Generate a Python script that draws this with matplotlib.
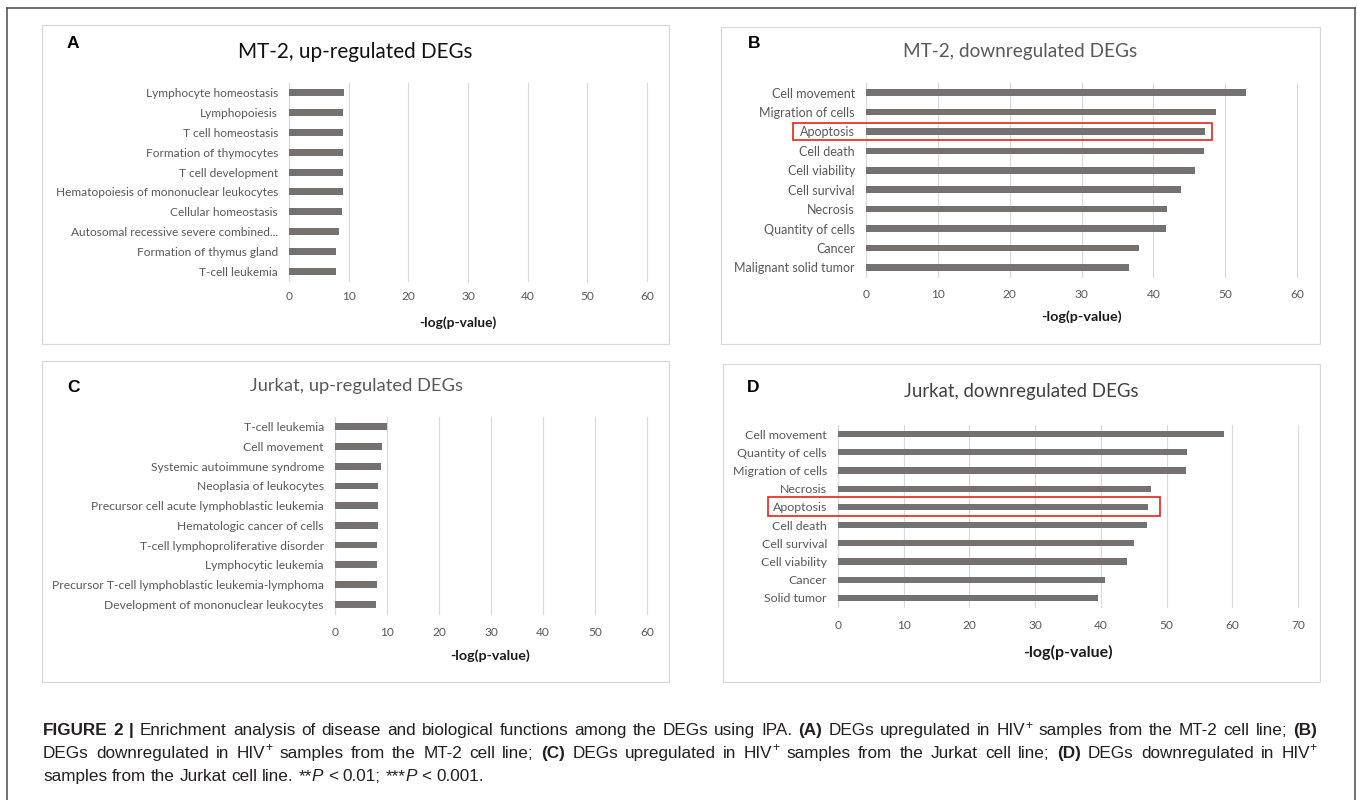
import numpy as np
import matplotlib
matplotlib.use("Agg")
import matplotlib.pyplot as plt
from matplotlib.patches import Rectangle
from matplotlib.lines import Line2D

# ---------------- data ----------------
a_labels = ["Lymphocyte homeostasis", "Lymphopoiesis", "T cell homeostasis",
            "Formation of thymocytes", "T cell development",
            "Hematopoiesis of mononuclear leukocytes", "Cellular homeostasis",
            "Autosomal recessive severe combined...", "Formation of thymus gland",
            "T-cell leukemia"]
a_values = [9.3, 9.1, 9.1, 9.05, 9.0, 9.0, 8.8, 8.3, 7.95, 7.9]

b_labels = ["Cell movement", "Migration of cells", "Apoptosis", "Cell death",
            "Cell viability", "Cell survival", "Necrosis", "Quantity of cells",
            "Cancer", "Malignant solid tumor"]
b_values = [52.9, 48.7, 47.2, 47.05, 45.8, 43.8, 41.9, 41.75, 37.95, 36.55]

c_labels = ["T-cell leukemia", "Cell movement", "Systemic autoimmune syndrome",
            "Neoplasia of leukocytes", "Precursor cell acute lymphoblastic leukemia",
            "Hematologic cancer of cells", "T-cell lymphoproliferative disorder",
            "Lymphocytic leukemia", "Precursor T-cell lymphoblastic leukemia-lymphoma",
            "Development of mononuclear leukocytes"]
c_values = [10.0, 8.95, 8.75, 8.35, 8.2, 8.18, 8.05, 8.03, 8.03, 7.87]

d_labels = ["Cell movement", "Quantity of cells", "Migration of cells", "Necrosis",
            "Apoptosis", "Cell death", "Cell survival", "Cell viability",
            "Cancer", "Solid tumor"]
d_values = [58.8, 53.1, 52.95, 47.6, 47.1, 47.0, 45.05, 43.95, 40.7, 39.5]

titles = ["MT-2, up-regulated DEGs", "MT-2, downregulated DEGs",
          "Jurkat, up-regulated DEGs", "Jurkat, downregulated DEGs"]
panel_letters = ["A", "B", "C", "D"]
xlabel_text = "-log(p-value)"
highlight = "Apoptosis"

# ---------------- style ----------------
W, H = 1357, 800
BAR = "#767171"
GRID = "#D9D9D9"
TICK = "#595959"
RED = "#E3241B"
plt.rcParams["font.family"] = ["Lato", "DejaVu Sans"]

fig = plt.figure(figsize=(W / 100, H / 100), dpi=100)
fig.patch.set_facecolor("white")


def fx(x):
    return x / W


def fy(y):
    return 1 - y / H


def px_rect(x0, y0, x1, y1):
    return [x0 / W, 1 - y1 / H, (x1 - x0) / W, (y1 - y0) / H]


# outer frame
for xs, ys in [((7, 7), (8, 805)), ((7, 1355), (8, 8)), ((1355, 1355), (8, 805))]:
    fig.add_artist(Line2D([fx(v) for v in xs], [fy(v) for v in ys],
                          transform=fig.transFigure, color="#4a4a4a", lw=1.1))

panels = [
    dict(labels=a_labels, values=a_values, box=(42, 25, 669, 344), ax=(289, 83, 647, 281),
         xmax=60, title_xy=(355, 52), title_fs=14.9, title_c="#111111", letter_xy=(67, 44),
         xl_xy=(458, 323), xl_fs=9.9, pad=7.0, lab_fs=8.6, hl=False, hl_x=None, hl_h=None),
    dict(labels=b_labels, values=b_values, box=(721, 27, 1320, 344), ax=(866, 83, 1297, 277),
         xmax=60, title_xy=(1020, 52), title_fs=13.7, title_c="#595959", letter_xy=(748, 43),
         xl_xy=(1081, 317), xl_fs=10.4, pad=8.5, lab_fs=9.0, hl=True, hl_x=(-10.2, 48.2), hl_h=0.88),
    dict(labels=c_labels, values=c_values, box=(42, 361, 669, 682), ax=(335, 417, 647, 614),
         xmax=60, title_xy=(356, 386), title_fs=13.2, title_c="#595959", letter_xy=(67, 387),
         xl_xy=(490, 656), xl_fs=10.3, pad=9.2, lab_fs=8.7, hl=False, hl_x=None, hl_h=None),
    dict(labels=d_labels, values=d_values, box=(723, 364, 1320, 682), ax=(838, 425, 1298, 607),
         xmax=70, title_xy=(1021, 392), title_fs=13.4, title_c="#404040", letter_xy=(747, 387),
         xl_xy=(1068, 652), xl_fs=11.5, pad=9.2, lab_fs=8.9, hl=True, hl_x=(-10.65, 49.0), hl_h=1.04),
]

for p, title, letter in zip(panels, titles, panel_letters):
    x0, y0, x1, y1 = p["box"]
    fig.add_artist(Rectangle((fx(x0), fy(y1)), (x1 - x0) / W, (y1 - y0) / H,
                             transform=fig.transFigure, fill=False, ec=GRID, lw=0.9))
    ax = fig.add_axes(px_rect(*p["ax"]))
    n = len(p["labels"])
    ypos = np.arange(n)
    ax.barh(ypos, p["values"], height=0.35, color=BAR, zorder=3)
    ax.set_ylim(n - 0.5, -0.5)
    ax.set_xlim(0, p["xmax"])
    ax.set_xticks(np.arange(0, p["xmax"] + 1, 10))
    ax.set_yticks(ypos)
    ax.set_yticklabels(p["labels"])
    ax.grid(axis="x", color=GRID, lw=0.8, zorder=0)
    for gl in ax.get_xgridlines():
        gl.set_clip_on(False)
    ax.set_axisbelow(True)
    for s in ["top", "right", "bottom"]:
        ax.spines[s].set_visible(False)
    ax.spines["left"].set_color(GRID)
    ax.spines["left"].set_linewidth(0.8)
    ax.set_facecolor("none")
    ax.tick_params(axis="both", length=0, labelcolor=TICK)
    ax.tick_params(axis="x", pad=p["pad"], labelsize=8.6)
    ax.tick_params(axis="y", pad=8, labelsize=p["lab_fs"])

    if p["hl"]:
        idx = p["labels"].index(highlight)
        hx0, hx1 = p["hl_x"]
        hh = p["hl_h"]
        ax.add_patch(Rectangle((hx0, idx - hh / 2), hx1 - hx0, hh, fill=False,
                               ec=RED, lw=1.2, clip_on=False, zorder=5))

    fig.text(fx(p["title_xy"][0]), fy(p["title_xy"][1]), title, ha="center", va="center",
             fontsize=p["title_fs"], color=p["title_c"])
    fig.text(fx(p["letter_xy"][0]), fy(p["letter_xy"][1]), letter, ha="left", va="center",
             fontsize=12.5, fontweight="bold", family="Liberation Sans", color="black")
    fig.text(fx(p["xl_xy"][0]), fy(p["xl_xy"][1]), xlabel_text, ha="center", va="center",
             fontsize=p["xl_fs"], fontweight="bold", color="#1a1a1a")

# ---------------- caption ----------------
FS = 12.3
renderer = fig.canvas.get_renderer()
styles = {
    "r": dict(family="Liberation Sans", fontsize=FS, color="#231f20"),
    "b": dict(family="Liberation Sans", fontsize=FS, fontweight="bold", color="#231f20"),
    "i": dict(family="Liberation Sans", fontsize=FS, fontstyle="italic", color="#231f20"),
    "sup": dict(family="Liberation Sans", fontsize=FS * 0.72, color="#231f20"),
}


def twidth(s, st):
    t = fig.text(0, 0, s, **styles[st])
    w = t.get_window_extent(renderer).width
    t.remove()
    return w


space_w = twidth("a a", "r") - twidth("aa", "r")

cap_lines = [
    [("FIGURE 2 |", "b"),
     (" Enrichment analysis of disease and biological functions among the DEGs using IPA. ", "r"),
     ("(A)", "b"), (" DEGs upregulated in HIV", "r"), ("+", "sup"),
     (" samples from the MT-2 cell line; ", "r"), ("(B)", "b")],
    [("DEGs downregulated in HIV", "r"), ("+", "sup"), (" samples from the MT-2 cell line; ", "r"),
     ("(C)", "b"), (" DEGs upregulated in HIV", "r"), ("+", "sup"),
     (" samples from the Jurkat cell line; ", "r"), ("(D)", "b"),
     (" DEGs downregulated in HIV", "r"), ("+", "sup")],
    [("samples from the Jurkat cell line. **", "r"), ("P", "i"), (" < 0.01; ***", "r"),
     ("P", "i"), (" < 0.001.", "r")],
]
cap_baselines = [735, 758, 781]
cap_left, cap_right = 43, 1317
justify = [True, True, False]

for runs, base, jus in zip(cap_lines, cap_baselines, justify):
    items = []
    for text, st in runs:
        parts = text.split(" ")
        for k, part in enumerate(parts):
            if k > 0:
                items.append(("SPACE", None))
            if part:
                items.append((part, st))
    words_w = sum(twidth(t, st) for t, st in items if t != "SPACE")
    nsp = sum(1 for t, _ in items if t == "SPACE")
    sw = space_w
    if jus and nsp:
        sw = (cap_right - cap_left - words_w) / nsp
    x = cap_left
    for t, st in items:
        if t == "SPACE":
            x += sw
            continue
        yb = base - (6.5 if st == "sup" else 0)
        fig.text(fx(x), fy(yb), t, ha="left", va="baseline", **styles[st])
        x += twidth(t, st)

fig.savefig("out.png", dpi=100, facecolor="white")
